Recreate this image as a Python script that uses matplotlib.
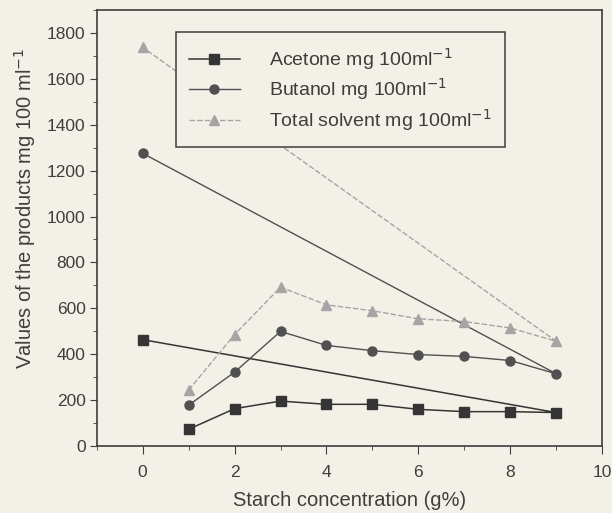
import matplotlib.pyplot as plt
from matplotlib.ticker import MultipleLocator

plt.rcParams['font.family'] = ['Liberation Sans', 'DejaVu Sans']

# points in the order they were joined (0 % comes last, so it joins back to 9 %)
starch = [1, 2, 3, 4, 5, 6, 7, 8, 9, 0]
acetone = [72, 162, 195, 181, 181, 159, 149, 149, 145, 463]
butanol = [177, 321, 499, 438, 415, 398, 390, 372, 314, 1276]
total = [243, 485, 692, 615, 589, 554, 542, 514, 456, 1738]

bg = '#f3f0e7'
ink = '#3e3e3e'
fig = plt.figure(figsize=(6.12, 5.13), dpi=100, facecolor=bg)
ax = fig.add_axes([0.158, 0.131, 0.826, 0.849], facecolor=bg)

ax.plot(starch, acetone, color='#353535', lw=1.1, marker='s', ms=6.5,
        label=r'Acetone mg 100ml$^{-1}$')
ax.plot(starch, butanol, color='#505050', lw=1.0, marker='o', ms=6.5,
        label=r'Butanol mg 100ml$^{-1}$')
ax.plot(starch, total, color='#a5a5a5', lw=1.0, ls=(0, (4, 1.5)), marker='^', ms=7.5,
        label=r'Total solvent mg 100ml$^{-1}$')

ax.set_xlim(-1, 10)
ax.set_ylim(0, 1900)
ax.xaxis.set_major_locator(MultipleLocator(2))
ax.xaxis.set_minor_locator(MultipleLocator(1))
ax.yaxis.set_major_locator(MultipleLocator(200))
ax.yaxis.set_minor_locator(MultipleLocator(100))
ax.tick_params(which='both', direction='out', color=ink, labelsize=12.5, labelcolor=ink)
ax.tick_params(axis='x', which='major', length=6, pad=8)
ax.tick_params(axis='x', which='minor', length=3)
ax.tick_params(axis='y', which='major', length=5, pad=3)
ax.tick_params(axis='y', which='minor', length=3)
for s in ax.spines.values():
    s.set_color(ink)
    s.set_linewidth(1.2)

ax.set_xlabel('Starch concentration (g%)', fontsize=14.5, color=ink, labelpad=8)
ax.set_ylabel(r'Values of the products mg 100 ml$^{-1}$', fontsize=14.5, color=ink)
ax.yaxis.set_label_coords(-0.117, 0.545)

leg = ax.legend(loc='upper left', bbox_to_anchor=(0.156, 0.95), borderaxespad=0,
                fontsize=14, fancybox=False, framealpha=1, facecolor=bg, edgecolor=ink,
                borderpad=0.7, handlelength=2.6, handletextpad=1.5, labelspacing=0.25)
leg.get_frame().set_linewidth(1.1)
for t in leg.get_texts():
    t.set_color(ink)

fig.savefig('out.png', dpi=100, facecolor=bg)
